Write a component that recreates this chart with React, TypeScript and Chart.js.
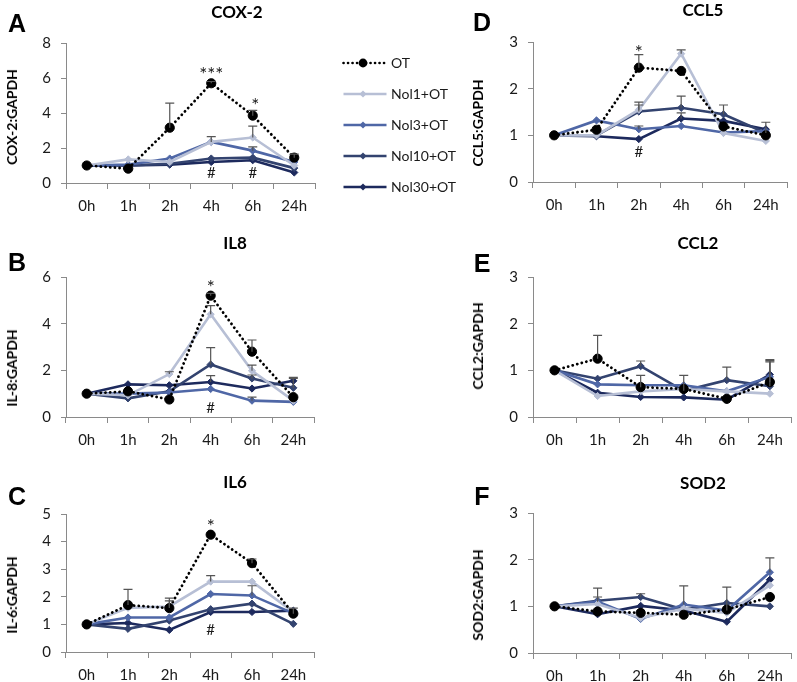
import React, { useEffect, useRef } from 'react';
import { Chart, registerables } from 'chart.js';

Chart.register(...registerables);

const timePoints = ['0h', '1h', '2h', '4h', '6h', '24h'];
const seriesNames = ['OT', 'Nol1+OT', 'Nol3+OT', 'Nol10+OT', 'Nol30+OT'];
const seriesColors = ['#000000', '#b7bfd5', '#4f67a6', '#33436f', '#1d2a5d'];

// Values per series: OT, Nol1+OT, Nol3+OT, Nol10+OT, Nol30+OT
const cox2Values = [
  [1.0, 0.82, 3.16, 5.7, 3.85, 1.45],
  [1.0, 1.35, 1.2, 2.35, 2.6, 1.0],
  [1.0, 1.05, 1.4, 2.35, 1.85, 1.2],
  [1.0, 1.0, 1.1, 1.4, 1.45, 0.85],
  [1.0, 1.0, 1.05, 1.2, 1.3, 0.6],
];
const cox2Errors = [
  [0, 0, 1.4, 0.1, 0.3, 0.2],
  [0, 0, 0, 0, 0.65, 0],
  [0, 0, 0, 0.3, 0.22, 0],
  [0, 0, 0, 0, 0, 0],
  [0, 0, 0, 0, 0, 0],
];
const cox2Marks = [
  { text: '***', index: 3, value: 6.2 },
  { text: '*', index: 4.06, value: 4.43 },
  { text: '#', index: 3, value: 0.55 },
  { text: '#', index: 4, value: 0.55 },
];

const il8Values = [
  [1.0, 1.1, 0.75, 5.2, 2.8, 0.85],
  [1.0, 0.93, 1.84, 4.4, 1.98, 0.7],
  [1.0, 1.0, 1.05, 1.2, 0.7, 0.65],
  [1.0, 0.8, 1.1, 2.25, 1.65, 1.25],
  [1.0, 1.4, 1.36, 1.5, 1.22, 1.55],
];
const il8Errors = [
  [0, 0, 0, 0.1, 0.5, 0],
  [0, 0, 0.1, 0.37, 0.24, 0],
  [0, 0, 0, 0, 0.15, 0],
  [0, 0, 0, 0.72, 0.15, 0.45],
  [0, 0, 0, 0.27, 0, 0.1],
];
const il8Marks = [
  { text: '*', index: 3, value: 5.55 },
  { text: '#', index: 3, value: 0.37 },
];

const il6Values = [
  [1.0, 1.7, 1.59, 4.25, 3.22, 1.39],
  [1.0, 1.6, 1.65, 2.55, 2.55, 1.45],
  [1.0, 1.25, 1.25, 2.1, 2.05, 1.4],
  [1.0, 0.84, 1.14, 1.55, 1.75, 1.02],
  [1.0, 1.05, 0.8, 1.45, 1.45, 1.5],
];
const il6Errors = [
  [0, 0.57, 0.36, 0, 0.15, 0.2],
  [0, 0, 0.2, 0.22, 0, 0],
  [0, 0, 0, 0, 0.35, 0],
  [0, 0, 0, 0, 0, 0],
  [0, 0, 0, 0, 0, 0],
];
const il6Marks = [
  { text: '*', index: 3, value: 4.55 },
  { text: '#', index: 3, value: 0.8 },
];

const ccl5Values = [
  [1.0, 1.12, 2.45, 2.38, 1.19, 1.0],
  [1.0, 1.0, 1.55, 2.75, 1.05, 0.88],
  [1.0, 1.32, 1.13, 1.2, 1.06, 1.09],
  [1.0, 1.0, 1.51, 1.59, 1.45, 1.05],
  [1.0, 0.98, 0.92, 1.36, 1.31, 1.13],
];
const ccl5Errors = [
  [0, 0, 0.28, 0, 0, 0],
  [0, 0, 0.1, 0.08, 0, 0],
  [0, 0, 0.07, 0, 0, 0],
  [0, 0, 0.2, 0.25, 0.2, 0.23],
  [0, 0, 0, 0.12, 0, 0],
];
const ccl5Marks = [
  { text: '*', index: 2, value: 2.77 },
  { text: '#', index: 2, value: 0.63 },
];

const ccl2Values = [
  [1.0, 1.25, 0.64, 0.6, 0.39, 0.75],
  [1.0, 0.45, 0.55, 0.6, 0.55, 0.5],
  [1.0, 0.7, 0.68, 0.68, 0.55, 0.86],
  [1.0, 0.82, 1.09, 0.56, 0.79, 0.66],
  [1.0, 0.52, 0.43, 0.42, 0.37, 0.91],
];
const ccl2Errors = [
  [0, 0.5, 0.25, 0, 0, 0.46],
  [0, 0, 0, 0, 0, 0],
  [0, 0, 0, 0, 0, 0],
  [0, 0, 0.11, 0.33, 0.28, 0.57],
  [0, 0, 0, 0, 0, 0.27],
];
const ccl2Marks: { text: string; index: number; value: number }[] = [];

const sod2Values = [
  [1.0, 0.89, 0.86, 0.82, 0.93, 1.2],
  [1.0, 1.05, 0.75, 0.95, 0.86, 1.45],
  [1.0, 1.1, 0.73, 1.04, 0.91, 1.73],
  [1.0, 1.12, 1.2, 0.93, 1.07, 1.0],
  [1.0, 0.83, 1.01, 0.91, 0.67, 1.57],
];
const sod2Errors = [
  [0, 0, 0, 0, 0, 0],
  [0, 0, 0, 0, 0, 0],
  [0, 0.29, 0, 0.4, 0.5, 0.31],
  [0, 0.08, 0.07, 0, 0, 0],
  [0, 0, 0, 0, 0, 0],
];
const sod2Marks: { text: string; index: number; value: number }[] = [];

const panelLetters = ['A', 'B', 'C', 'D', 'E', 'F'];
const panelTitles = ['COX-2', 'IL8', 'IL6', 'CCL5', 'CCL2', 'SOD2'];
const axisLabels = ['COX-2:GAPDH', 'IL-8:GAPDH', 'IL-6:GAPDH', 'CCL5:GAPDH', 'CCL2:GAPDH', 'SOD2:GAPDH'];
const yMaxima = [8, 6, 5, 3, 3, 3];
const ySteps = [2, 2, 1, 1, 1, 1];

const panelValues = [cox2Values, il8Values, il6Values, ccl5Values, ccl2Values, sod2Values];
const panelErrors = [cox2Errors, il8Errors, il6Errors, ccl5Errors, ccl2Errors, sod2Errors];
const panelMarks = [cox2Marks, il8Marks, il6Marks, ccl5Marks, ccl2Marks, sod2Marks];

// layout (pixels)
const layouts = [
  { cl: 0, ct: 0, cw: 330, ch: 225, l: 66, r: 315, t: 43, b: 183, lx: 17, ly: 23, tx: 237, ty: 12, ax: 12, ay: 117 },
  { cl: 0, ct: 230, cw: 330, ch: 225, l: 66, r: 314, t: 277, b: 417, lx: 17, ly: 262, tx: 235, ty: 243, ax: 12, ay: 368 },
  { cl: 0, ct: 460, cw: 330, ch: 222, l: 66, r: 314, t: 514, b: 652, lx: 17, ly: 496, tx: 235, ty: 482, ax: 12, ay: 595 },
  { cl: 466, ct: 0, cw: 331, ch: 225, l: 533, r: 787, t: 42, b: 182, lx: 482, ly: 22, tx: 703, ty: 10, ax: 478, ay: 123 },
  { cl: 466, ct: 230, cw: 331, ch: 225, l: 533, r: 795, t: 277, b: 417, lx: 482, ly: 263, tx: 698, ty: 243, ax: 478, ay: 346 },
  { cl: 466, ct: 460, cw: 331, ch: 222, l: 533, r: 795, t: 513, b: 653, lx: 482, ly: 496, tx: 703, ty: 483, ax: 478, ay: 595 },
];

const legendRows = [63, 94, 125, 156, 187];

const AXIS_COLOR = '#8a8a8a';
const TEXT_COLOR = '#1a1a1a';
const FONT = 'Lato, "Open Sans", sans-serif';

const errorBarPlugin = {
  id: 'errorBars',
  afterDatasetsDraw(chart: any) {
    const ctx = chart.ctx;
    const y = chart.scales.y;
    chart.data.datasets.forEach((ds: any, i: number) => {
      const meta = chart.getDatasetMeta(i);
      const errs = ds.errors as number[] | undefined;
      if (!errs) return;
      meta.data.forEach((pt: any, j: number) => {
        const e = errs[j];
        if (!e) return;
        const v = ds.data[j] as number;
        const y0 = y.getPixelForValue(v);
        const y1 = y.getPixelForValue(v + e);
        ctx.save();
        ctx.strokeStyle = '#555555';
        ctx.lineWidth = 1.2;
        ctx.beginPath();
        ctx.moveTo(pt.x, y0);
        ctx.lineTo(pt.x, y1);
        ctx.moveTo(pt.x - 4.5, y1);
        ctx.lineTo(pt.x + 4.5, y1);
        ctx.stroke();
        ctx.restore();
      });
    });
  },
};

function makeMarksPlugin(marks: { text: string; index: number; value: number }[]) {
  return {
    id: 'sigMarks',
    afterDatasetsDraw(chart: any) {
      const ctx = chart.ctx;
      const x = chart.scales.x;
      const y = chart.scales.y;
      ctx.save();
      ctx.fillStyle = TEXT_COLOR;
      ctx.textAlign = 'center';
      ctx.textBaseline = 'middle';
      marks.forEach((m) => {
        ctx.font = m.text === '#' ? `15px ${FONT}` : `19px ${FONT}`;
        ctx.fillText(m.text, x.getPixelForValue(m.index), y.getPixelForValue(m.value));
      });
      ctx.restore();
    },
  };
}

function Panel({ idx }: { idx: number }) {
  const ref = useRef<HTMLCanvasElement>(null);
  const L = layouts[idx];
  useEffect(() => {
    if (!ref.current) return;
    const values = panelValues[idx];
    const errors = panelErrors[idx];
    const datasets = values.map((vals, si) => {
      const isOT = si === 0;
      return {
        label: seriesNames[si],
        data: vals,
        errors: errors[si],
        borderColor: seriesColors[si],
        backgroundColor: seriesColors[si],
        borderWidth: isOT ? 2.8 : 2.6,
        borderDash: isOT ? [0.1, 4.6] : [],
        borderCapStyle: isOT ? 'round' : 'butt',
        tension: 0,
        pointStyle: isOT ? 'circle' : 'rectRot',
        pointRadius: isOT ? 4.6 : 3.6,
        pointBackgroundColor: seriesColors[si],
        pointBorderColor: seriesColors[si],
        pointBorderWidth: 1,
      } as any;
    });
    const yw = L.l - L.cl;
    const xh = L.ct + L.ch - L.b;
    const chart = new Chart(ref.current, {
      type: 'line',
      data: { labels: timePoints, datasets },
      options: {
        animation: false,
        responsive: false,
        layout: { padding: { top: L.t - L.ct, right: L.cl + L.cw - L.r, bottom: 0, left: 0 } },
        plugins: { legend: { display: false }, tooltip: { enabled: false } },
        scales: {
          x: {
            type: 'category',
            offset: true,
            grid: { display: true, offset: true, drawOnChartArea: false, drawTicks: true, tickLength: 6, color: AXIS_COLOR, lineWidth: 1 },
            border: { display: true, color: AXIS_COLOR, width: 1 },
            ticks: { color: TEXT_COLOR, font: { family: FONT, size: 15 }, padding: 8, maxRotation: 0, autoSkip: false },
            afterFit: (s: any) => { s.height = xh; },
          },
          y: {
            min: 0,
            max: yMaxima[idx],
            ticks: { stepSize: ySteps[idx], color: TEXT_COLOR, font: { family: FONT, size: 15 }, padding: 10 },
            grid: { display: true, drawOnChartArea: false, drawTicks: true, tickLength: 5, color: AXIS_COLOR, lineWidth: 1 },
            border: { display: true, color: AXIS_COLOR, width: 1 },
            afterFit: (s: any) => { s.width = yw; },
          },
        },
      } as any,
      plugins: [errorBarPlugin as any, makeMarksPlugin(panelMarks[idx]) as any],
    });
    return () => chart.destroy();
  }, [idx]);
  return (
    <>
      <canvas
        ref={ref}
        width={L.cw}
        height={L.ch}
        style={{ position: 'absolute', left: L.cl, top: L.ct, width: L.cw, height: L.ch }}
      />
      <div style={{ position: 'absolute', left: L.lx - 20, top: L.ly - 14, width: 40, lineHeight: '28px', textAlign: 'center', fontFamily: '"Liberation Sans", Arial, sans-serif', fontWeight: 'bold', fontSize: 25, color: '#000' }}>
        {panelLetters[idx]}
      </div>
      <div style={{ position: 'absolute', left: L.tx - 60, top: L.ty - 11, width: 120, lineHeight: '22px', textAlign: 'center', fontFamily: FONT, fontWeight: 'bold', fontSize: 17, color: '#000' }}>
        {panelTitles[idx]}
      </div>
      <div style={{ position: 'absolute', left: L.ax, top: L.ay, transform: 'translate(-50%, -50%) rotate(-90deg)', whiteSpace: 'nowrap', fontFamily: FONT, fontWeight: 'bold', fontSize: 14, lineHeight: '16px', color: '#000' }}>
        {axisLabels[idx]}
      </div>
    </>
  );
}

function Legend() {
  return (
    <>
      {seriesNames.map((name, i) => {
        const isOT = i === 0;
        const c = seriesColors[i];
        return (
          <div key={name} style={{ position: 'absolute', left: 342, top: legendRows[i] - 9, height: 18, display: 'flex', alignItems: 'center' }}>
            <svg width={46} height={14} style={{ display: 'block' }}>
              <line x1={1.5} y1={7} x2={44.5} y2={7} stroke={c} strokeWidth={isOT ? 2.6 : 2.4} strokeDasharray={isOT ? '0.1 4.4' : undefined} strokeLinecap={isOT ? 'round' : 'butt'} />
              {isOT ? (
                <circle cx={21} cy={7} r={4.4} fill={c} />
              ) : (
                <polygon points="21,3.5 24.5,7 21,10.5 17.5,7" fill={c} />
              )}
            </svg>
            <span style={{ marginLeft: 3, fontFamily: FONT, fontSize: 14, color: TEXT_COLOR, lineHeight: '18px', whiteSpace: 'nowrap' }}>{name}</span>
          </div>
        );
      })}
    </>
  );
}

export default function App() {
  return (
    <div style={{ position: 'absolute', left: 0, top: 0, width: 797, height: 682, background: '#fff', overflow: 'hidden' }}>
      {[0, 1, 2, 3, 4, 5].map((i) => (
        <Panel key={i} idx={i} />
      ))}
      <Legend />
    </div>
  );
}
